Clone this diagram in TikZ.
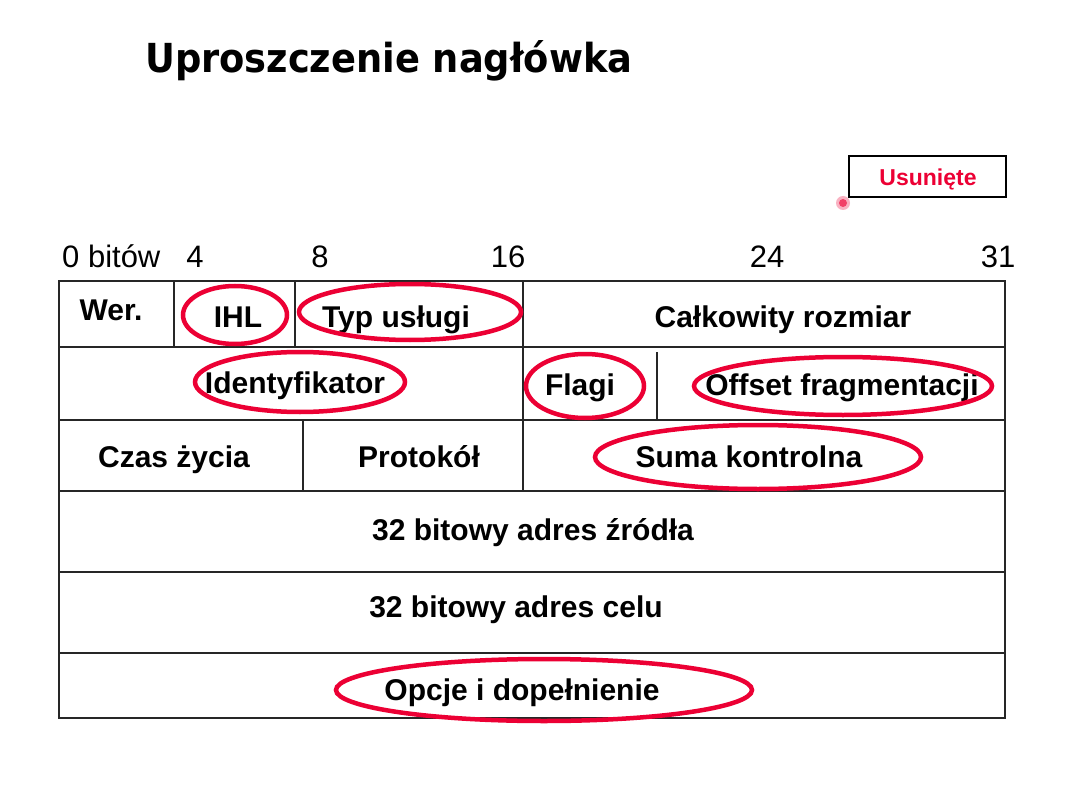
\documentclass[tikz,border=0pt]{standalone}
\usepackage{fontspec}
\setmainfont{Liberation Sans}
\newfontfamily\headfont{DejaVu Sans}
\usetikzlibrary{shapes.geometric}
\definecolor{mark}{RGB}{236,0,52}
\begin{document}
\begin{tikzpicture}[x=1pt,y=-1pt,
  grid/.style={line width=1.6pt,black!85},
  field/.style={font=\fontsize{30}{32}\selectfont\bfseries,anchor=base,inner sep=0pt},
  bitno/.style={font=\fontsize{31}{33}\selectfont,anchor=base,inner sep=0pt},
  ring/.style={draw=mark,line width=4.5pt,ellipse,inner sep=0pt}]
\useasboundingbox[fill=white] (0,0) rectangle (1089,786);

% title
\node[font=\headfont\fontsize{40}{44}\selectfont\bfseries,anchor=base west,inner sep=0pt] (title) at (145,73) {\scalebox{0.92}[1]{Uproszczenie nagłówka}};

% legend box
\node[draw,line width=1.6pt,minimum width=157pt,minimum height=41pt,inner sep=0pt] (legend) at (927.5,176.5) {};
\node[font=\fontsize{23}{25}\selectfont\bfseries,text=mark,anchor=base,inner sep=0pt] (legendtxt) at (928,186) {Usunięte};
\fill[mark!30] (843,203) circle (7pt);
\fill[mark!75] (843,203) circle (4pt);

% bit positions
\node[bitno,anchor=base west] (b0) at (62,268) {0 bitów};
\node[bitno] (b4) at (195,268) {4};
\node[bitno] (b8) at (320,268) {8};
\node[bitno] (b16) at (508,268) {16};
\node[bitno] (b24) at (767,268) {24};
\node[bitno] (b31) at (998,268) {31};

% header grid
\draw[grid] (59,281) rectangle (1005,718);
\foreach \yy in {347,420,491,572,653} \draw[grid] (59,\yy) -- (1005,\yy);
\draw[grid] (174,281) -- (174,347);
\draw[grid] (295,281) -- (295,347);
\draw[grid] (523,281) -- (523,491);
\draw[grid] (657,352) -- (657,420);
\draw[grid] (303,420) -- (303,491);

% fields
\node[field] (wer) at (111,320) {Wer.};
\node[field] (ihl) at (238,327) {IHL};
\node[field] (tos) at (396,327) {Typ usługi};
\node[field] (len) at (783,327) {Całkowity rozmiar};
\node[field] (id) at (295,393) {Identyfikator};
\node[field] (flags) at (580,395) {Flagi};
\node[field] (frag) at (842,395) {Offset fragmentacji};
\node[field] (ttl) at (174,467) {Czas życia};
\node[field] (proto) at (419,467) {Protokół};
\node[field] (csum) at (749,467) {Suma kontrolna};
\node[field] (src) at (533,540) {32 bitowy adres źródła};
\node[field] (dst) at (516,617) {32 bitowy adres celu};
\node[field] (opt) at (522,700) {Opcje i dopełnienie};

% removed fields
\node[ring,minimum width=104pt,minimum height=58pt] (ihlring) at (235,315) {};
\node[ring,minimum width=222pt,minimum height=56pt] (tosring) at (410,312) {};
\node[ring,minimum width=210pt,minimum height=60pt] (idring) at (300,382) {};
\node[ring,minimum width=118pt,minimum height=64pt] (flagsring) at (585,386) {};
\node[ring,minimum width=298pt,minimum height=58pt] (fragring) at (843,386) {};
\node[ring,minimum width=326pt,minimum height=64pt] (csumring) at (758,457) {};
\node[ring,minimum width=416pt,minimum height=62pt] (optring) at (544,690) {};
\end{tikzpicture}
\end{document}
